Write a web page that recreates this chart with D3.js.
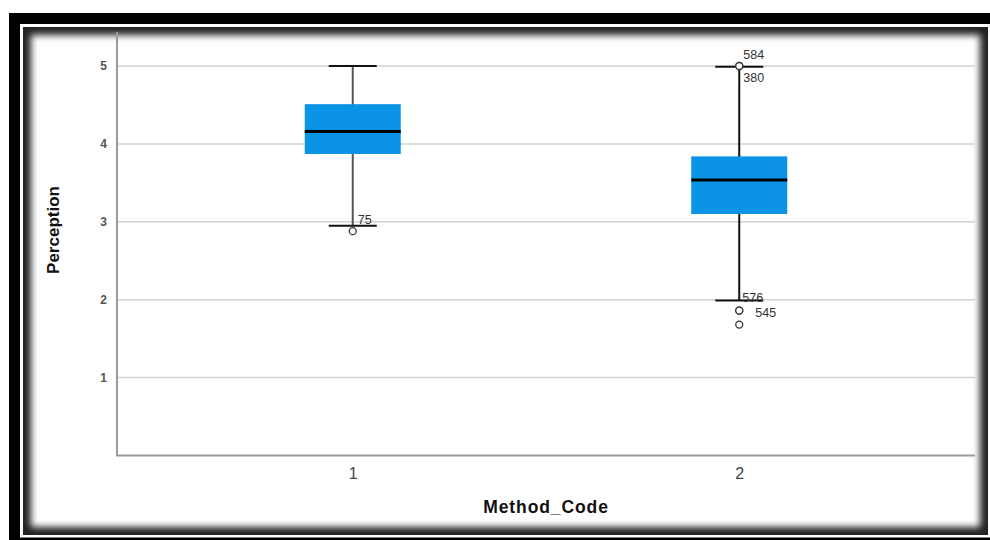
<!DOCTYPE html>
<html>
<head>
<meta charset="utf-8">
<script src="https://cdn.jsdelivr.net/npm/d3@7"></script>
<style>
  body { margin: 0; background: #fff; }
  text { font-family: "Liberation Sans", Arial, sans-serif; }
</style>
</head>
<body>
<div id="graf"></div>
<script>
// I. Datos
categorias = ['1', '2']
minimos = [2.95, 1.99]
q1s = [3.87, 3.10]
medianas = [4.16, 3.535]
q3s = [4.51, 3.84]
maximos = [5.0, 4.99]
atipicos = [
        [{ v: 2.88, id: '75' }],
        [{ v: 5.0, id: '584' }, { v: 5.0, id: '380' }, { v: 1.86, id: '576' }, { v: 1.86, id: '545' }, { v: 1.68, id: '' }]
]
yTicks = [1, 2, 3, 4, 5]

// posicion de las etiquetas (como en SPSS, evitando choques)
etiquetaOffset = {
        '75': [5, -7], '584': [4, -7], '380': [4, 16], '576': [3, -9], '545': [16, 6]
}

// II. Configuracion
ancho_total = 990
alto_total = 540

svg = d3.select('#graf').append('svg')
        .attr('width', ancho_total)
        .attr('height', alto_total)

// marco negro con sombra interior
defs = svg.append('defs')
defs.append('filter').attr('id', 'blur')
        .attr('x', '-10%').attr('y', '-10%').attr('width', '120%').attr('height', '120%')
        .append('feGaussianBlur').attr('stdDeviation', 3.5)
defs.append('clipPath').attr('id', 'marco')
        .append('rect').attr('x', 23).attr('y', 27).attr('width', 965).attr('height', 508)

svg.append('rect').attr('x', 9).attr('y', 13).attr('width', 1000).attr('height', 540).attr('fill', '#000')
svg.append('rect').attr('x', 20).attr('y', 24).attr('width', 980).attr('height', 513.5).attr('fill', '#fff')
svg.append('rect').attr('x', 23).attr('y', 27).attr('width', 965).attr('height', 508).attr('fill', '#222')
svg.append('g').attr('clip-path', 'url(#marco)')
        .append('rect').attr('x', 31).attr('y', 35).attr('width', 949).attr('height', 492)
        .attr('fill', '#fff').attr('filter', 'url(#blur)')

margins = { top: 31.7, left: 117, right: 15, bottom: 84.5 }

// Escaladores
x = d3.scalePoint().domain(categorias)
        .range([margins.left, ancho_total - margins.right])
        .padding(0.61)
y = d3.scaleLinear().domain([0, 5.44])
        .range([alto_total - margins.bottom, margins.top])

g = svg.append('g')

// lineas de cuadricula
g.selectAll('.grid')
        .data(yTicks)
        .enter().append('line')
        .attr('class', 'grid')
        .attr('x1', margins.left).attr('x2', ancho_total - margins.right)
        .attr('y1', d => y(d)).attr('y2', d => y(d))
        .attr('stroke', '#d2d2d2')
        .attr('stroke-width', 1.5)

// ejes
yAxisGroup = g.append('g')
        .attr('transform', `translate(${margins.left}, 0)`)
        .call(d3.axisLeft(y).tickValues(yTicks).tickSize(0).tickPadding(10).tickFormat(d3.format('d')))
yAxisGroup.select('.domain').remove()
yAxisGroup.selectAll('text')
        .attr('font-size', 12).attr('font-weight', 'bold').attr('fill', '#555')
        .style('font-family', '"Liberation Sans", Arial, sans-serif')

xAxisGroup = g.append('g')
        .attr('transform', `translate(0, ${y(0)})`)
        .call(d3.axisBottom(x).tickSize(0).tickPadding(12))
xAxisGroup.select('.domain').remove()
xAxisGroup.selectAll('text')
        .attr('font-size', 16).attr('fill', '#444')
        .style('font-family', '"Liberation Sans", Arial, sans-serif')

g.append('line')
        .attr('x1', margins.left).attr('x2', margins.left)
        .attr('y1', margins.top).attr('y2', y(0))
        .attr('stroke', '#9a9a9a').attr('stroke-width', 2)
g.append('line')
        .attr('x1', margins.left - 1).attr('x2', ancho_total - margins.right)
        .attr('y1', y(0)).attr('y2', y(0))
        .attr('stroke', '#9a9a9a').attr('stroke-width', 2)

// titulos
svg.append('text')
        .attr('transform', 'translate(59, 230) rotate(-90)')
        .attr('text-anchor', 'middle')
        .attr('font-size', 17).attr('font-weight', 'bold').attr('fill', '#111')
        .text('Perception')
svg.append('text')
        .attr('x', (margins.left + ancho_total - margins.right) / 2)
        .attr('y', 513)
        .attr('text-anchor', 'middle')
        .attr('font-size', 17.5).attr('font-weight', 'bold').attr('fill', '#111')
        .attr('letter-spacing', 0.9)
        .text('Method_Code')

// III. Cajas
anchoCaja = 96
datos = categorias.map((c, i) => ({
        c: c, min: minimos[i], q1: q1s[i], med: medianas[i], q3: q3s[i], max: maximos[i], out: atipicos[i]
}))

cajas = g.selectAll('.caja')
        .data(datos)
        .enter().append('g')
        .attr('class', 'caja')

cajas.append('line')
        .attr('x1', d => x(d.c)).attr('x2', d => x(d.c))
        .attr('y1', d => y(d.max)).attr('y2', d => y(d.min))
        .attr('stroke', (d, i) => i == 0 ? '#555' : '#111')
        .attr('stroke-width', 2)

cajas.selectAll('.cap')
        .data(d => [{ c: d.c, v: d.min }, { c: d.c, v: d.max }])
        .enter().append('line')
        .attr('x1', d => x(d.c) - anchoCaja / 4).attr('x2', d => x(d.c) + anchoCaja / 4)
        .attr('y1', d => y(d.v)).attr('y2', d => y(d.v))
        .attr('stroke', '#111').attr('stroke-width', 2)

cajas.append('rect')
        .attr('x', d => x(d.c) - anchoCaja / 2)
        .attr('width', anchoCaja)
        .attr('y', d => y(d.q3))
        .attr('height', d => y(d.q1) - y(d.q3))
        .attr('fill', '#0b93e6')

cajas.append('line')
        .attr('x1', d => x(d.c) - anchoCaja / 2).attr('x2', d => x(d.c) + anchoCaja / 2)
        .attr('y1', d => y(d.med)).attr('y2', d => y(d.med))
        .attr('stroke', '#000').attr('stroke-width', 3)

// atipicos
puntos = cajas.selectAll('.out')
        .data(d => d.out.map(o => ({ c: d.c, v: o.v, id: o.id })))
        .enter()

puntos.append('circle')
        .attr('cx', d => x(d.c)).attr('cy', d => y(d.v))
        .attr('r', 3.5)
        .attr('fill', '#fff').attr('stroke', '#333').attr('stroke-width', 1.3)

puntos.filter(d => d.id != '').append('text')
        .attr('x', d => x(d.c) + etiquetaOffset[d.id][0])
        .attr('y', d => y(d.v) + etiquetaOffset[d.id][1])
        .attr('font-size', 12.5).attr('fill', '#333')
        .text(d => d.id)
</script>
</body>
</html>
